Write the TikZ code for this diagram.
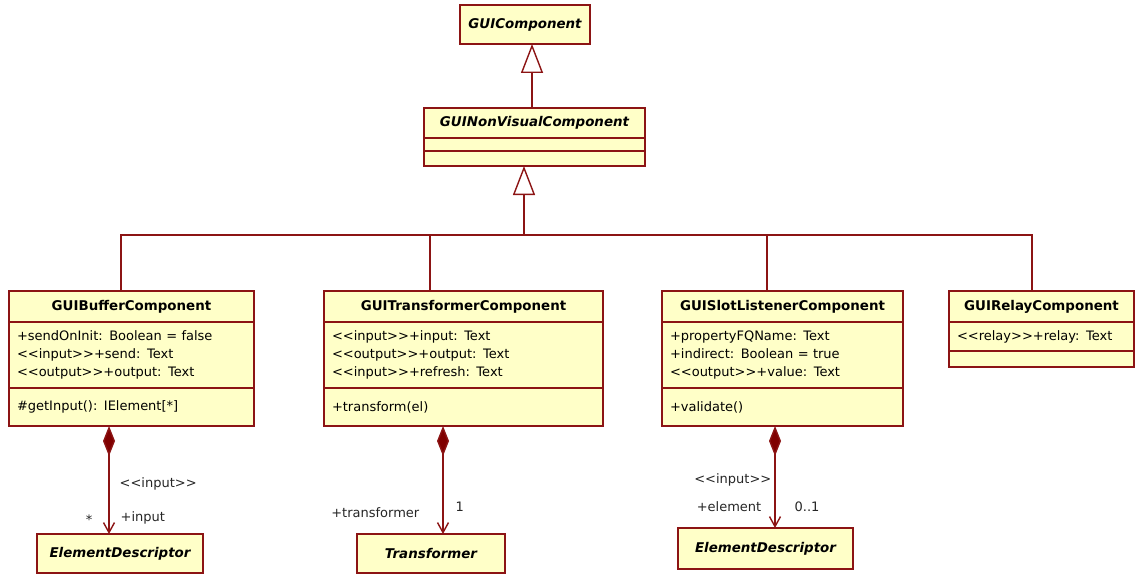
\documentclass[tikz,border=0pt]{standalone}
\usepackage{fontspec}
\newfontfamily\umlfont{DejaVu Sans}[Ligatures=TeXOff]
\usetikzlibrary{positioning,arrows.meta}
\definecolor{umlred}{RGB}{140,20,20}
\definecolor{umlfill}{RGB}{255,255,200}
\definecolor{umldark}{RGB}{128,0,0}

\tikzset{
  box/.style={draw=umlred,fill=umlfill,line width=1.4pt,inner sep=0pt,outer sep=0pt,anchor=north west,
    font=\umlfont\fontsize{13}{18}\selectfont},
  title/.style={box,font=\umlfont\fontsize{13.4}{18}\selectfont\bfseries},
  abstract/.style={box,font=\umlfont\fontsize{13.4}{18}\selectfont\bfseries\itshape},
  members/.style={box,align=left,inner xsep=8pt},
  line/.style={draw=umlred,line width=1.4pt},
  gen/.style={line,-{Triangle[length=29pt,width=22pt,fill=white]}},
  comp/.style={line,{Diamond[length=30pt,width=12pt,fill=umldark]}-{Straight Barb[length=10pt,width=11pt]}},
  lbl/.style={inner sep=0pt,font=\umlfont\fontsize{13}{16}\selectfont,text=black!85}
}

\begin{document}
\begin{tikzpicture}[x=1pt,y=-1pt]
\useasboundingbox (0,0) rectangle (1135,575);

% top of the hierarchy
\node[abstract,minimum width=130,minimum height=39](compName) at (460,5) {GUIComponent};
\node[abstract,minimum width=221,minimum height=30](nvName) at (424,108) {GUINonVisualComponent};
\node[box,minimum width=221,minimum height=13,below=0pt of nvName](nvAttr) {};
\node[box,minimum width=221,minimum height=15,below=0pt of nvAttr](nvOps) {};

% concrete components
\node[title,minimum width=245,minimum height=31](bufName) at (9,291) {GUIBufferComponent};
\node[members,text width=229,minimum height=66,below=0pt of bufName](bufAttr)
  {+sendOnInit: Boolean = false\\<<input>>+send: Text\\<<output>>+output: Text};
\node[members,text width=229,minimum height=38,below=0pt of bufAttr](bufOps) {\#getInput(): IElement[*]};

\node[title,minimum width=279,minimum height=31](transName) at (324,291) {GUITransformerComponent};
\node[members,text width=263,minimum height=66,below=0pt of transName](transAttr)
  {<<input>>+input: Text\\<<output>>+output: Text\\<<input>>+refresh: Text};
\node[members,text width=263,minimum height=38,below=0pt of transAttr](transOps) {+transform(el)};

\node[title,minimum width=241,minimum height=31](slotName) at (662,291) {GUISlotListenerComponent};
\node[members,text width=225,minimum height=66,below=0pt of slotName](slotAttr)
  {+propertyFQName: Text\\+indirect: Boolean = true\\<<output>>+value: Text};
\node[members,text width=225,minimum height=38,below=0pt of slotAttr](slotOps) {+validate()};

\node[title,minimum width=185,minimum height=31](relayName) at (949,291) {GUIRelayComponent};
\node[members,text width=169,minimum height=29,below=0pt of relayName](relayAttr) {<<relay>>+relay: Text};
\node[box,minimum width=185,minimum height=16,below=0pt of relayAttr](relayOps) {};

% parts
\node[abstract,minimum width=166,minimum height=39](elemA) at (37,534) {ElementDescriptor};
\node[abstract,minimum width=148,minimum height=39](trf) at (357,534) {Transformer};
\node[abstract,minimum width=175,minimum height=41](elemB) at (678,528) {ElementDescriptor};

% generalization
\draw[gen] ([xshift=-2.5pt]nvName.north) -- ([xshift=-2.5pt]nvName.north |- compName.south);
\coordinate (hub) at (524,235);
\coordinate (busBuf) at (121,235);
\coordinate (busTrans) at (430,235);
\coordinate (busSlot) at (767,235);
\coordinate (busRelay) at (1032,235);
\draw[gen] (hub) -- (hub |- nvOps.south);
\draw[line] (busBuf |- bufName.north) -- (busBuf) -- (busRelay) -- (busRelay |- relayName.north);
\draw[line] (busTrans) -- (busTrans |- transName.north);
\draw[line] (busSlot) -- (busSlot |- slotName.north);

% composition
\draw[comp] ([xshift=-22.5pt]bufOps.south) -- ([xshift=-11pt]elemA.north)
  node[lbl,pos=0.54,anchor=west,xshift=10pt] {<<input>>}
  node[lbl,pos=0.85,anchor=west,xshift=11pt] {+input}
  node[lbl,pos=0.87,anchor=east,xshift=-16pt] {*};
\draw[comp] ([xshift=-20.5pt]transOps.south) -- ([xshift=12pt]trf.north)
  node[lbl,pos=0.80,anchor=east,xshift=-23pt] {+transformer}
  node[lbl,pos=0.75,anchor=west,xshift=12pt] {1};
\draw[comp] ([xshift=-7.5pt]slotOps.south) -- ([xshift=9.5pt]elemB.north)
  node[lbl,pos=0.53,anchor=east,xshift=-3pt] {<<input>>}
  node[lbl,pos=0.79,anchor=east,xshift=-13pt] {+element}
  node[lbl,pos=0.79,anchor=west,xshift=19pt] {0..1};
\end{tikzpicture}
\end{document}
